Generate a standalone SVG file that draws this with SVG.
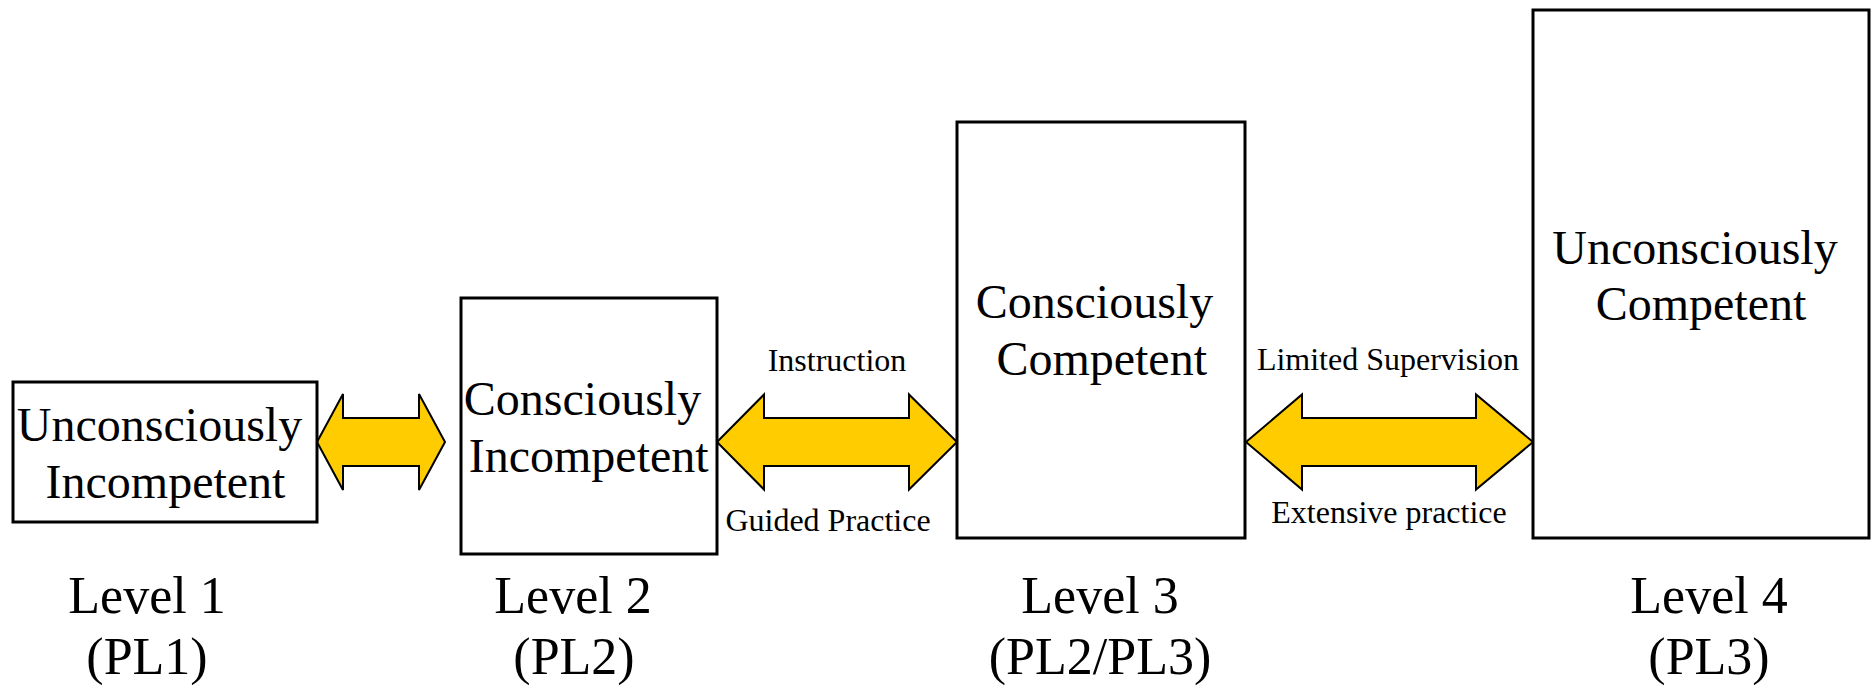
<svg xmlns="http://www.w3.org/2000/svg" width="1875" height="686" viewBox="0 0 1875 686">
<style>
  .box { fill: #ffffff; stroke: #000000; stroke-width: 3; }
  .arrow { fill: #FFCC00; stroke: #000000; stroke-width: 2; stroke-linejoin: miter; }
  .t48 { font-family: "Liberation Serif", "Times New Roman", serif; font-size: 48px; fill: #000; text-anchor: middle; }
  .t32 { font-family: "Liberation Serif", "Times New Roman", serif; font-size: 32px; fill: #000; text-anchor: middle; }
  .t52 { font-family: "Liberation Serif", "Times New Roman", serif; font-size: 52px; fill: #000; text-anchor: middle; }
</style>
<rect width="1875" height="686" fill="#ffffff"/>
<g id="connectors">
  <polygon class="arrow" points="317,442 343,394 343,418 419,418 419,394 445,442 419,490 419,466 343,466 343,490"/>
  <polygon class="arrow" points="717,442 764,394.5 764,418 909,418 909,394.5 957,442 909,489.5 909,466 764,466 764,489.5"/>
  <polygon class="arrow" points="1246,442 1302,394.5 1302,418 1476,418 1476,394.5 1533,442 1476,489.5 1476,466 1302,466 1302,489.5"/>
  <text class="t32" x="837" y="371">Instruction</text>
  <text class="t32" x="828" y="531">Guided Practice</text>
  <text class="t32" x="1388" y="370">Limited Supervision</text>
  <text class="t32" x="1389" y="523">Extensive practice</text>
</g>
<g id="node-level1">
  <rect class="box" x="13" y="382" width="304" height="140"/>
  <text class="t48" x="159.5" y="441">Unconsciously</text>
  <text class="t48" x="165.5" y="498">Incompetent</text>
</g>
<g id="node-level2">
  <rect class="box" x="461" y="298" width="256" height="256"/>
  <text class="t48" x="582.5" y="415">Consciously</text>
  <text class="t48" x="588.7" y="472">Incompetent</text>
</g>
<g id="node-level3">
  <rect class="box" x="957" y="122" width="288" height="416"/>
  <text class="t48" x="1094.5" y="318">Consciously</text>
  <text class="t48" x="1101.7" y="375">Competent</text>
</g>
<g id="node-level4">
  <rect class="box" x="1533" y="10" width="336" height="528"/>
  <text class="t48" x="1695" y="264">Unconsciously</text>
  <text class="t48" x="1701" y="320">Competent</text>
</g>
<g id="level-labels">
  <text class="t52" x="147" y="613">Level 1</text>
  <text class="t52" x="147" y="674">(PL1)</text>
  <text class="t52" x="573" y="613">Level 2</text>
  <text class="t52" x="574" y="674">(PL2)</text>
  <text class="t52" x="1100" y="613">Level 3</text>
  <text class="t52" x="1100" y="674">(PL2/PL3)</text>
  <text class="t52" x="1709" y="613">Level 4</text>
  <text class="t52" x="1709" y="674">(PL3)</text>
</g>
</svg>
